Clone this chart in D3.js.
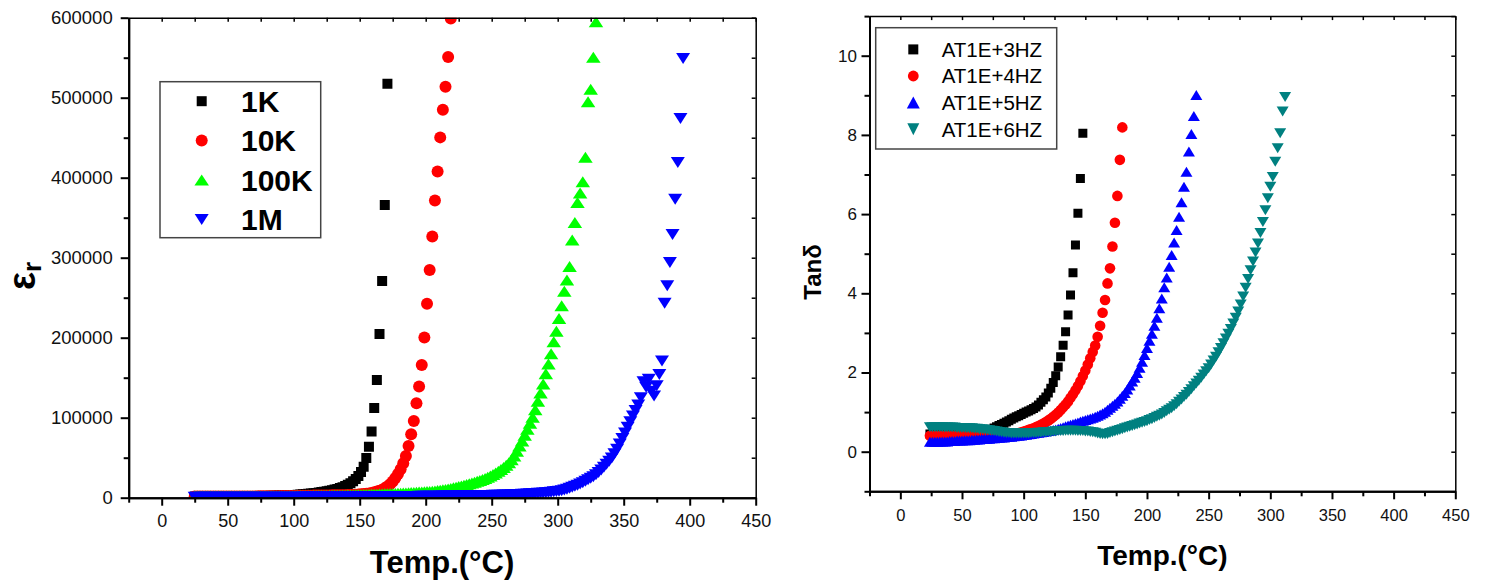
<!DOCTYPE html>
<html>
<head>
<meta charset="utf-8">
<script src="https://cdn.jsdelivr.net/npm/d3@7"></script>
<style>
  body { margin: 0; background: #fff; }
  text { font-family: "Liberation Sans", Arial, sans-serif; }
</style>
</head>
<body>
<svg id="chart" width="1487" height="580"></svg>
<script>
// ---------- Dielectric permittivity vs temperature ----------
const tempsEps = [
  25, 27, 29, 31, 33, 35, 37, 39, 41, 43,
  45, 47, 49, 51, 53, 55, 57, 59, 61, 63,
  65, 67, 69, 71, 73, 75, 77, 79, 81, 83,
  85, 87, 89, 91, 93, 95, 97, 99, 101, 103,
  105, 107, 109, 111, 113, 115, 117, 119, 121, 123,
  125, 127, 129, 131, 133, 135, 137, 139, 141, 143,
  145, 147, 149, 151, 153, 155, 157, 159, 161, 163,
  165, 167, 169, 171, 173, 175, 177, 179, 181, 183,
  185, 187, 189, 191, 193, 195, 197, 199, 201, 203,
  205, 207, 209, 211, 213, 215, 217, 219, 221, 223,
  225, 227, 229, 231, 233, 235, 237, 239, 241, 243,
  245, 247, 249, 251, 253, 255, 257, 259, 261, 263,
  265, 267, 269, 271, 273, 275, 277, 279, 281, 283,
  285, 287, 289, 291, 293, 295, 297, 299, 301, 303,
  305, 307, 309, 311, 313, 315, 317, 319, 321, 323,
  325, 327, 329, 331, 333, 335, 337, 339, 341, 343,
  345, 347, 349, 351, 353, 355, 357, 359, 361, 363,
  365, 367, 369, 371, 373, 375, 377, 379, 381, 383,
  385, 387, 389, 391, 393, 395, 397
];

const eps1K = [
  1500, 1500, 1500, 1500, 1500, 1500, 1500, 1500, 1500, 1500,
  1550, 1550, 1550, 1550, 1600, 1600, 1600, 1650, 1650, 1700,
  1700, 1750, 1800, 1850, 1900, 1950, 2000, 2100, 2200, 2300,
  2400, 2500, 2600, 2700, 2850, 3000, 3150, 3300, 3500, 3700,
  3900, 4200, 4500, 4800, 5200, 5600, 6000, 6500, 7000, 7500,
  8000, 8600, 9300, 10100, 11000, 12000, 13200, 14600, 16200, 18000,
  20500, 23500, 27000, 32000, 38800, 49700, 63800, 82600, 112000, 147000,
  204500, 271000, 366000, 517500
];

const eps10K = [
  1500, 1500, 1500, 1500, 1500, 1500, 1500, 1500, 1500, 1500,
  1500, 1500, 1500, 1500, 1500, 1500, 1500, 1500, 1500, 1600,
  1600, 1600, 1650, 1650, 1700, 1700, 1750, 1750, 1800, 1800,
  1850, 1900, 1950, 2000, 2050, 2100, 2150, 2200, 2250, 2300,
  2350, 2400, 2450, 2500, 2550, 2600, 2650, 2700, 2750, 2800,
  2850, 2900, 2950, 3000, 3050, 3100, 3150, 3200, 3300, 3400,
  3500, 3700, 3900, 4200, 4500, 4900, 5400, 6000, 6700, 7600,
  8700, 10000, 11800, 14000, 16800, 20300, 24500, 29500, 35500, 43000,
  52200, 64700, 79300, 96000, 118100, 138900, 166000, 200200, 242300, 284500,
  326500, 371500, 407800, 450400, 485000, 513800, 551000, 599000
];

const eps100K = [
  2000, 2000, 2000, 2000, 2000, 2000, 2000, 2000, 2000, 2000,
  2050, 2050, 2050, 2050, 2050, 2050, 2050, 2050, 2050, 2050,
  2100, 2100, 2100, 2100, 2100, 2100, 2150, 2150, 2150, 2150,
  2150, 2150, 2200, 2200, 2200, 2200, 2200, 2200, 2250, 2300,
  2350, 2400, 2450, 2500, 2550, 2600, 2650, 2700, 2750, 2800,
  2850, 2900, 2950, 3000, 3050, 3100, 3150, 3200, 3300, 3400,
  3500, 3600, 3700, 3800, 3900, 4000, 4100, 4200, 4300, 4400,
  4500, 4650, 4800, 4950, 5100, 5250, 5400, 5550, 5700, 5850,
  6000, 6200, 6400, 6600, 6800, 7000, 7200, 7400, 7600, 7900,
  8200, 8500, 8900, 9300, 9800, 10300, 10900, 11600, 12300, 13100,
  13900, 14700, 15600, 16500, 17400, 18400, 19400, 20500, 21600, 22800,
  24100, 25600, 27200, 29000, 30900, 33000, 35300, 37800, 40600, 43800,
  47500, 52000, 58000, 64500, 71000, 78000, 85500, 93000, 100500, 110000,
  120500, 131000, 142000, 155000, 167000, 180000, 195000, 208000, 224000, 240000,
  258000, 272000, 289000, 322000, 344000, 369000, 381000, 395000, 425500, 495000,
  510500, 550500, 595000
];

const eps1M = [
  500, 500, 500, 500, 500, 500, 500, 500, 500, 500,
  500, 500, 500, 500, 500, 500, 500, 500, 500, 500,
  550, 550, 550, 550, 550, 600, 600, 600, 600, 600,
  600, 650, 650, 650, 650, 650, 700, 700, 700, 700,
  700, 750, 750, 750, 750, 800, 800, 800, 800, 850,
  850, 850, 900, 900, 900, 950, 950, 950, 1000, 1000,
  1000, 1050, 1050, 1100, 1100, 1150, 1150, 1200, 1200, 1250,
  1250, 1300, 1300, 1350, 1350, 1400, 1400, 1450, 1450, 1500,
  1500, 1550, 1600, 1600, 1650, 1700, 1700, 1750, 1800, 1800,
  1850, 1900, 1950, 2000, 2000, 2050, 2100, 2150, 2200, 2250,
  2300, 2350, 2400, 2450, 2500, 2550, 2600, 2650, 2700, 2750,
  2800, 2850, 2900, 2950, 3000, 3100, 3200, 3300, 3400, 3500,
  3600, 3750, 3900, 4050, 4200, 4400, 4600, 4800, 5000, 5200,
  5450, 5700, 5950, 6200, 6550, 6900, 7300, 7700, 8100, 8800,
  9700, 10700, 11800, 13000, 14300, 15700, 17200, 18800, 20500, 22300,
  24200, 26300, 28700, 31500, 34700, 38200, 41800, 45500, 49500, 55000,
  60500, 67000, 74000, 81000, 88000, 95000, 102000, 109000, 116000, 125000,
  145000, 138000, 148000, 133000, 127000, 140000, 154000, 171000, 243000, 265000,
  294000, 329000, 373000, 419000, 474000, 549000
];

const epsLabels = ["1K", "10K", "100K", "1M"];
const epsTicksY = [0, 100000, 200000, 300000, 400000, 500000, 600000];

// ---------- Loss tangent vs temperature ----------
const tempsTan = [
  24, 26, 28, 30, 32, 34, 36, 38, 40, 42,
  44, 46, 48, 50, 52, 54, 56, 58, 60, 62,
  64, 66, 68, 70, 72, 74, 76, 78, 80, 82,
  84, 86, 88, 90, 92, 94, 96, 98, 100, 102,
  104, 106, 108, 110, 112, 114, 116, 118, 120, 122,
  124, 126, 128, 130, 132, 134, 136, 138, 140, 142,
  144, 146, 148, 150, 152, 154, 156, 158, 160, 162,
  164, 166, 168, 170, 172, 174, 176, 178, 180, 182,
  184, 186, 188, 190, 192, 194, 196, 198, 200, 202,
  204, 206, 208, 210, 212, 214, 216, 218, 220, 222,
  224, 226, 228, 230, 232, 234, 236, 238, 240, 242,
  244, 246, 248, 250, 252, 254, 256, 258, 260, 262,
  264, 266, 268, 270, 272, 274, 276, 278, 280, 282,
  284, 286, 288, 290, 292, 294, 296, 298, 300, 302,
  304, 306, 308, 310, 312
];

const tan1E3 = [
  0.45, 0.45, 0.45, 0.45, 0.45, 0.45, 0.45, 0.45, 0.45, 0.45,
  0.45, 0.45, 0.45, 0.45, 0.45, 0.45, 0.45, 0.45, 0.45, 0.46,
  0.47, 0.49, 0.51, 0.53, 0.55, 0.57, 0.60, 0.63, 0.66, 0.69,
  0.72, 0.75, 0.78, 0.82, 0.85, 0.88, 0.91, 0.94, 0.97, 1.00,
  1.03, 1.06, 1.09, 1.13, 1.18, 1.25, 1.31, 1.38, 1.48, 1.60,
  1.75, 1.92, 2.14, 2.40, 2.69, 3.03, 3.45, 3.96, 4.52, 5.22,
  6.02, 6.90, 8.04
];

const tan1E4 = [
  0.40, 0.40, 0.40, 0.40, 0.40, 0.40, 0.40, 0.40, 0.40, 0.40,
  0.40, 0.40, 0.40, 0.40, 0.40, 0.40, 0.40, 0.40, 0.40, 0.40,
  0.40, 0.40, 0.40, 0.40, 0.40, 0.40, 0.40, 0.40, 0.40, 0.40,
  0.40, 0.41, 0.42, 0.43, 0.44, 0.46, 0.47, 0.49, 0.51, 0.53,
  0.55, 0.57, 0.59, 0.62, 0.65, 0.68, 0.71, 0.75, 0.79, 0.83,
  0.88, 0.93, 0.99, 1.05, 1.12, 1.19, 1.27, 1.36, 1.45, 1.55,
  1.66, 1.78, 1.91, 2.05, 2.20, 2.36, 2.52, 2.68, 2.90, 3.18,
  3.51, 3.83, 4.25, 4.63, 5.18, 5.78, 6.46, 7.37, 8.19
];

const tan1E5 = [
  0.25, 0.25, 0.25, 0.25, 0.26, 0.26, 0.26, 0.26, 0.27, 0.27,
  0.27, 0.28, 0.28, 0.28, 0.29, 0.29, 0.29, 0.30, 0.30, 0.31,
  0.31, 0.32, 0.32, 0.33, 0.33, 0.34, 0.34, 0.35, 0.35, 0.36,
  0.36, 0.37, 0.38, 0.38, 0.39, 0.40, 0.40, 0.41, 0.42, 0.43,
  0.44, 0.45, 0.46, 0.47, 0.48, 0.49, 0.50, 0.51, 0.52, 0.53,
  0.55, 0.56, 0.58, 0.60, 0.62, 0.64, 0.66, 0.68, 0.70, 0.72,
  0.74, 0.76, 0.78, 0.80, 0.82, 0.84, 0.86, 0.88, 0.91, 0.94,
  0.97, 1.01, 1.06, 1.11, 1.16, 1.21, 1.27, 1.34, 1.41, 1.48,
  1.57, 1.67, 1.77, 1.87, 1.99, 2.12, 2.27, 2.44, 2.62, 2.80,
  2.98, 3.18, 3.38, 3.62, 3.87, 4.15, 4.40, 4.67, 4.97, 5.28,
  5.60, 5.93, 6.30, 6.69, 7.07, 7.58, 8.02, 8.48, 9.01
];

const tan1E6 = [
  0.62, 0.62, 0.62, 0.62, 0.62, 0.62, 0.61, 0.61, 0.61, 0.61,
  0.61, 0.60, 0.60, 0.60, 0.60, 0.59, 0.59, 0.59, 0.58, 0.58,
  0.57, 0.57, 0.56, 0.55, 0.54, 0.53, 0.52, 0.51, 0.50, 0.49,
  0.48, 0.47, 0.47, 0.46, 0.46, 0.46, 0.46, 0.46, 0.46, 0.46,
  0.46, 0.47, 0.47, 0.47, 0.48, 0.48, 0.49, 0.49, 0.50, 0.50,
  0.51, 0.51, 0.52, 0.52, 0.52, 0.53, 0.53, 0.53, 0.53, 0.53,
  0.52, 0.52, 0.52, 0.51, 0.51, 0.50, 0.49, 0.48, 0.46, 0.45,
  0.44, 0.44, 0.45, 0.47, 0.49, 0.51, 0.53, 0.55, 0.57, 0.59,
  0.61, 0.63, 0.65, 0.67, 0.69, 0.71, 0.73, 0.75, 0.77, 0.80,
  0.82, 0.85, 0.88, 0.91, 0.94, 0.98, 1.02, 1.06, 1.10, 1.15,
  1.20, 1.26, 1.32, 1.38, 1.44, 1.51, 1.58, 1.65, 1.72, 1.79,
  1.87, 1.95, 2.03, 2.11, 2.20, 2.30, 2.40, 2.51, 2.62, 2.74,
  2.86, 2.98, 3.10, 3.24, 3.38, 3.54, 3.72, 3.92, 4.14, 4.36,
  4.58, 4.80, 5.03, 5.26, 5.52, 5.80, 6.10, 6.40, 6.69, 6.94,
  7.32, 7.66, 8.04, 8.59, 8.96
];

const tanLabels = ["AT1E+3HZ", "AT1E+4HZ", "AT1E+5HZ", "AT1E+6HZ"];
const tanTicksY = [0, 2, 4, 6, 8, 10];

const tempTicks = [0, 50, 100, 150, 200, 250, 300, 350, 400, 450];
const tempMinorTicks = [-25, 25, 75, 125, 175, 225, 275, 325, 375, 425];
const tempFrameTicks = [-25, 0, 25, 50, 75, 100, 125, 150, 175, 200, 225, 250,
                        275, 300, 325, 350, 375, 400, 425, 450];

const colors = ["#000000", "#ff0000", "#00ff00", "#0000ff"];
const colorsTan = ["#000000", "#ff0000", "#0000ff", "#008080"];

// ---------- marker shapes ----------
const squareType = s => ({ draw(c) { c.rect(-s / 2, -s / 2, s, s); } });
const circleType = r => ({ draw(c) { c.moveTo(r, 0); c.arc(0, 0, r, 0, 2 * Math.PI); c.closePath(); } });
const triUpType = (w, h) => ({ draw(c) { c.moveTo(0, -h / 2); c.lineTo(w / 2, h / 2); c.lineTo(-w / 2, h / 2); c.closePath(); } });
const triDownType = (w, h) => ({ draw(c) { c.moveTo(0, h / 2); c.lineTo(w / 2, -h / 2); c.lineTo(-w / 2, -h / 2); c.closePath(); } });

const svg = d3.select("#chart");

function styleAxis(g, fontSize, width) {
  g.attr("font-family", null).attr("font-size", null);
  g.selectAll(".domain").attr("stroke", "#000").attr("stroke-width", width);
  g.selectAll(".tick line").attr("stroke", "#000").attr("stroke-width", width);
  g.selectAll(".tick text").attr("fill", "#111").style("font-size", fontSize + "px");
}

function drawFrame(x, y, o) {
  const [xl, xr] = x.range();
  const [yb, yt] = y.range();
  // top frame with inward ticks
  const top = svg.append("g").attr("transform", `translate(0,${yt})`)
    .call(d3.axisBottom(x).tickValues(tempFrameTicks).tickSize(4).tickSizeOuter(0).tickFormat(""));
  styleAxis(top, 10, 1.5);
  // right frame with inward ticks
  const right = svg.append("g").attr("transform", `translate(${xr},0)`)
    .call(d3.axisLeft(y).tickValues(o.yFrameTicks).tickSize(4).tickSizeOuter(0).tickFormat(""));
  styleAxis(right, 10, 1.5);
  // bottom axis
  const bMinor = svg.append("g").attr("transform", `translate(0,${yb})`)
    .call(d3.axisBottom(x).tickValues(tempMinorTicks).tickSize(5).tickSizeOuter(0).tickFormat(""));
  styleAxis(bMinor, 10, 2);
  const bottom = svg.append("g").attr("transform", `translate(0,${yb})`)
    .call(d3.axisBottom(x).tickValues(tempTicks).tickSize(8).tickSizeOuter(0)
      .tickPadding(o.xPad).tickFormat(d3.format("d")));
  styleAxis(bottom, o.xFont, 2);
  // left axis
  const lMinor = svg.append("g").attr("transform", `translate(${xl},0)`)
    .call(d3.axisLeft(y).tickValues(o.yMinor).tickSize(5).tickSizeOuter(0).tickFormat(""));
  styleAxis(lMinor, 10, 2);
  const left = svg.append("g").attr("transform", `translate(${xl},0)`)
    .call(d3.axisLeft(y).tickValues(o.yTicks).tickSize(8).tickSizeOuter(0)
      .tickPadding(o.yPad).tickFormat(d3.format("d")));
  styleAxis(left, o.yFont, 2);
}

function drawSeries(x, y, clipId, series) {
  const [xl, xr] = x.range();
  const [yb, yt] = y.range();
  svg.append("clipPath").attr("id", clipId)
    .append("rect").attr("x", xl).attr("y", yt).attr("width", xr - xl).attr("height", yb - yt);
  const g = svg.append("g").attr("clip-path", `url(#${clipId})`);
  series.forEach(s => {
    const pts = s.values.map((v, i) => [s.temps[i], v]);
    g.append("g").selectAll("path").data(pts).join("path")
      .attr("d", d3.symbol().type(s.type))
      .attr("transform", d => `translate(${x(d[0])},${y(d[1])})`)
      .attr("fill", s.color);
  });
}

function drawLegend(box, rows, o) {
  svg.append("rect").attr("x", box.x).attr("y", box.y).attr("width", box.w).attr("height", box.h)
    .attr("fill", "#fff").attr("stroke", "#444").attr("stroke-width", 1.5);
  rows.forEach((r, i) => {
    const cy = o.y0 + i * o.dy;
    svg.append("path").attr("d", d3.symbol().type(r.type))
      .attr("transform", `translate(${o.mx},${cy})`).attr("fill", r.color);
    svg.append("text").attr("x", o.tx).attr("y", cy + o.base)
      .style("font-size", o.font + "px").style("font-weight", o.weight).attr("fill", "#000")
      .text(r.label);
  });
}

// ---------- left panel: permittivity ----------
const xL = d3.scaleLinear().domain([-25, 450]).range([128.7, 755.7]);
const yL = d3.scaleLinear().domain([0, 600000]).range([497.7, 17.7]);

const shapesL = [squareType(10), circleType(6), triUpType(14.5, 11), triDownType(14, 11)];
const epsSeries = [eps1K, eps10K, eps100K, eps1M];

drawSeries(xL, yL, "clipEps", epsSeries.map((vals, i) => ({
  temps: tempsEps, values: vals, type: shapesL[i], color: colors[i]
})));

drawFrame(xL, yL, {
  yTicks: epsTicksY,
  yMinor: [50000, 150000, 250000, 350000, 450000, 550000],
  yFrameTicks: [0, 50000, 100000, 150000, 200000, 250000, 300000, 350000, 400000, 450000, 500000, 550000, 600000],
  xPad: 9, xFont: 18, yPad: 8, yFont: 18.5
});

drawLegend({ x: 160, y: 81.7, w: 160.7, h: 156 },
  epsLabels.map((l, i) => ({ label: l, type: shapesL[i], color: colors[i] })),
  { y0: 101.2, dy: 39.4, mx: 201.7, tx: 241, base: 10.8, font: 30, weight: "bold" });

svg.append("text").attr("x", 442).attr("y", 573).attr("text-anchor", "middle")
  .style("font-size", "31px").style("font-weight", "bold").text("Temp.(°C)");

const epsTitle = svg.append("text").attr("transform", "translate(35,290) rotate(-90)")
  .style("font-size", "38px").style("font-weight", "bold");
epsTitle.append("tspan").text("ε");
epsTitle.append("tspan").attr("dy", 6).style("font-size", "26px").text("r");

// ---------- right panel: loss tangent ----------
const xR = d3.scaleLinear().domain([-25, 450]).range([869.5, 1455.3]);
const yR = d3.scaleLinear().domain([-1, 11]).range([491.3, 16.1]);

const shapesR = [squareType(9), circleType(5.3), triUpType(12, 10), triDownType(12, 10)];
const tanSeries = [tan1E3, tan1E4, tan1E5, tan1E6];

drawSeries(xR, yR, "clipTan", tanSeries.map((vals, i) => ({
  temps: tempsTan, values: vals, type: shapesR[i], color: colorsTan[i]
})));

drawFrame(xR, yR, {
  yTicks: tanTicksY,
  yMinor: [-1, 1, 3, 5, 7, 9, 11],
  yFrameTicks: [-1, 0, 1, 2, 3, 4, 5, 6, 7, 8, 9, 10, 11],
  xPad: 10, xFont: 16.5, yPad: 4.5, yFont: 17
});

const shapesRLegend = [squareType(10), circleType(5.4), triUpType(13, 12), triDownType(12, 12)];
drawLegend({ x: 875.7, y: 27.7, w: 181, h: 121.3 },
  tanLabels.map((l, i) => ({ label: l, type: shapesRLegend[i], color: colorsTan[i] })),
  { y0: 49.4, dy: 26.6, mx: 913.3, tx: 941.7, base: 7.4, font: 20.5, weight: "normal" });

svg.append("text").attr("x", 1162.4).attr("y", 565).attr("text-anchor", "middle")
  .style("font-size", "28px").style("font-weight", "bold").text("Temp.(°C)");

svg.append("text").attr("transform", "translate(821,272) rotate(-90)").attr("text-anchor", "middle")
  .style("font-size", "24px").style("font-weight", "bold").text("Tanδ");
</script>
</body>
</html>
